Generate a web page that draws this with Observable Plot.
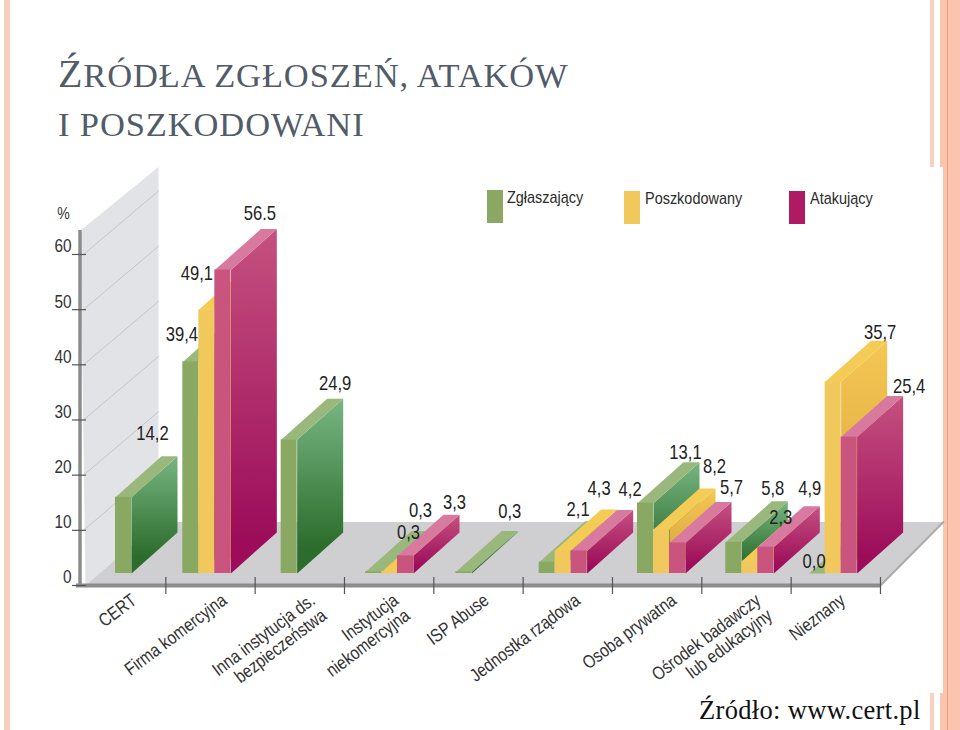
<!DOCTYPE html>
<html lang="pl">
<head>
<meta charset="utf-8">
<script src="https://cdn.jsdelivr.net/npm/d3@7"></script>
<script src="https://cdn.jsdelivr.net/npm/@observablehq/plot@0.6"></script>
<style>
html,body{margin:0;padding:0;background:#fff;overflow:hidden}
#page{position:relative;width:960px;height:730px;overflow:hidden}
.st{position:absolute}
#title{position:absolute;left:58px;top:50px;font-family:"Liberation Serif",serif;color:#525b68;font-size:34.5px;line-height:48.5px;letter-spacing:.88px;white-space:nowrap;font-weight:400}
#title .big{font-size:40px}
#plot{position:absolute;left:0;top:160px}
#src{position:absolute;left:699px;top:695px;font-family:"Liberation Serif",serif;font-size:26.5px;color:#111;letter-spacing:.33px;white-space:nowrap}
.lg{position:absolute;font-family:"Liberation Sans",sans-serif;font-size:17px;color:#2b2b2b;white-space:nowrap;transform:scaleX(.85);transform-origin:left center}
.sw{position:absolute;width:16px;height:33px}
</style>
</head>
<body>
<svg width="0" height="0" style="position:absolute">
<defs>
<linearGradient id="gGreen" x1="0" y1="0" x2="0" y2="1"><stop offset="0" stop-color="#78b682"/><stop offset=".85" stop-color="#2c6c2c"/></linearGradient>
<linearGradient id="gYellow" x1="0" y1="0" x2="0" y2="1"><stop offset="0" stop-color="#f5c753"/><stop offset="1" stop-color="#d4a03a"/></linearGradient>
<linearGradient id="gPink" x1="0" y1="0" x2="0" y2="1"><stop offset="0" stop-color="#c5517f"/><stop offset=".9" stop-color="#9c0c5a"/></linearGradient>
</defs>
</svg>
<div id="page">
  <div class="st" style="left:4px;top:0;width:6px;height:730px;background:#f8cdbd"></div>
  <div class="st" style="left:930px;top:0;width:4px;height:730px;background:#f9cfc0"></div>
  <div class="st" style="left:940px;top:0;width:20px;height:730px;background:#fbc4ae"></div>
  <div class="st" style="left:947px;top:0;width:1px;height:730px;background:#ee9f7e"></div>
  <div class="st" style="left:50px;top:167px;width:893px;height:526px;background:#fff"></div>
  <div id="title"><span class="big">Ź</span>RÓDŁA ZGŁOSZEŃ, ATAKÓW<br>I POSZKODOWANI</div>
  <div id="plot"></div>
  <div id="legend"></div>
  <div id="src">Źródło: www.cert.pl</div>
</div>
<script>
// ---- data -----------------------------------------------------------
const categories = ["CERT","Firma komercyjna","Inna instytucja ds.\nbezpieczeństwa","Instytucja\nniekomercyjna","ISP Abuse","Jednostka rządowa","Osoba prywatna","Ośrodek badawczy\nlub edukacyjny","Nieznany"];
const zglaszajacy   = [14.2, 39.4, 24.9, 0.3, 0.3, 2.1, 13.1, 5.8, 0.0];
const poszkodowany  = [null, 49.1, null, 0.3, null, 4.3, 8.2, 2.3, 35.7];
const atakujacy     = [null, 56.5, null, 3.3, null, 4.2, 5.7, 4.9, 25.4];
const labelsZ = ["14,2","39,4","24,9","0,3","0,3","2,1","13,1","5,8","0,0"];
const labelsP = [null,"49,1",null,"0,3",null,"4,3","8,2","2,3","35,7"];
const labelsA = [null,"56.5",null,"3,3",null,"4,2","5,7","4,9","25,4"];
const seriesNames = ["Zgłaszający","Poszkodowany","Atakujący"];
const yTicks = [0,10,20,30,40,50,60];

// ---- layout (in px of the page, converted by the scales' domains) ----
const W = 960, H = 540, TOP = 160;
const BAND = 89.33, X0 = 76, UNIT = 5.517, Y0 = 585;
const ix = px => (px - X0) / BAND;          // page px -> band units
const iy = px => (Y0 - px) / UNIT;          // page px -> percent units
const BAR = 16 / BAND, DX = 46 / BAND, DY = 41 / UNIT;   // bar width and depth
const LIFT = (Y0 - 573) / UNIT, K = 5.37 / UNIT;         // bars stand behind the axis
const groupShift = [39,17,26,21,22,16,25,24,18].map(d => d / BAND);
const labelShift = [53,54,53,47,48,50,57,52,47].map(d => d / BAND);
const nudges = [
  [[-17,-11],[-55,26],[0,-3],[-11,14],[0,-7],[-15,0],[-6,2],[-7,-1],[-49,41]],
  [null,[-56,17],null,[-15,-8],null,[-10,-9],[7,-10],[-15,9],[1,4]],
  [null,[-9,-4],null,[3,0],null,[5,-8],[8,-2],[-2,-6],[14,2]]
];
const frontFill = ["#89a862","#f0c85c","#c9557f"];
const topFill   = ["#9ab87c","#f4cc55","#d8799f"];
const sideFill  = ["url(#gGreen)","url(#gYellow)","url(#gPink)"];
const FONT = '"Liberation Sans",sans-serif';

const seriesVals = [zglaszajacy, poszkodowany, atakujacy];
const seriesLabs = [labelsZ, labelsP, labelsA];
const bars = [];
categories.forEach((c,i) => seriesVals.forEach((vals,s) => {
  if (vals[i] == null) return;
  const x1 = i + groupShift[i] + s * BAR, x2 = x1 + BAR, y1 = LIFT, y2 = LIFT + vals[i] * K;
  bars.push({c,i,s,x1,x2,y1,y2,label:seriesLabs[s][i],nudge:nudges[s][i]});
}));

const face = (pts,fill) => Plot.line(pts,{x:"0",y:"1",fill,stroke:"none"});

// background planes
const WALLX = 0.873, WALLY = 11.5, WALLTOP = iy(230);
const wall = face([[ix(80),WALLTOP],[ix(80)+WALLX,WALLTOP+WALLY],[ix(80)+WALLX,WALLY],[ix(85),0]],"#e2e3e6");
const floor = face([[ix(85),0],[ix(85)+.817,WALLY],[9+.705,WALLY],[9,0]],"#cfcfd2");
const wallLines = yTicks.filter(d => d > 0).map(d =>
  Plot.line([[ix(83),d],[ix(80)+WALLX,d+WALLY]],{x:"0",y:"1",stroke:"#c6c6c8",strokeWidth:1}));

const barMarks = bars.flatMap(b => [
  face([[b.x2,b.y1],[b.x2+DX,b.y1+DY],[b.x2+DX,b.y2+DY],[b.x2,b.y2]], sideFill[b.s]),
  face([[b.x1,b.y2],[b.x2,b.y2],[b.x2+DX,b.y2+DY],[b.x1+DX,b.y2+DY]], topFill[b.s]),
  Plot.rect([b],{x1:"x1",x2:"x2",y1:"y1",y2:"y2",fill:frontFill[b.s]})
]);

const valueLabels = bars.map(b => ({
  label:b.label,
  x:(b.x1 + BAR/2 + DX) + b.nudge[0]/BAND,
  y:(b.y2 + DY) + (12 - b.nudge[1])/UNIT
}));

const chart = Plot.plot({
  width:W, height:H, margin:0, style:{background:"transparent",overflow:"visible"},
  x:{type:"linear",domain:[-X0/BAND,(W-X0)/BAND],range:[0,W],axis:null},
  y:{type:"linear",domain:[(Y0-(TOP+H))/UNIT,(Y0-TOP)/UNIT],range:[H,0],axis:null},
  marks:[
    wall, floor, ...wallLines,
    // right edge of the floor and front edge (x axis)
    Plot.line([[9,0],[9.705,WALLY]],{x:"0",y:"1",stroke:"#ababad",strokeWidth:2}),
    Plot.ruleX([ix(79.5)],{y1:-.3,y2:WALLTOP,stroke:"#8c8c8c",strokeWidth:3.5}),
    Plot.ruleY([0],{x1:ix(76),x2:9,stroke:"#8c8c8c",strokeWidth:4}),
    Plot.ruleX(d3.range(1,10),{y1:iy(577),y2:iy(594),stroke:"#555",strokeWidth:1.2}),
    Plot.ruleY(yTicks,{x1:ix(72),x2:ix(86),stroke:"#555",strokeWidth:1.2}),
    ...barMarks,
    Plot.text(yTicks,{x:ix(71),y:d=>d,text:d=>String(d),dy:-8,textAnchor:"end",fontFamily:FONT,fontSize:18.5,fill:"#333"}),
    Plot.text(["%"],{x:ix(63),y:iy(213),text:d=>d,fontFamily:FONT,fontSize:17,fill:"#333"}),
    Plot.text(valueLabels,{x:"x",y:"y",text:"label",fontFamily:FONT,fontSize:20,fill:"#222"}),
    Plot.text(categories,{x:(d,i)=>i+labelShift[i],y:iy(591.5),text:d=>d,rotate:-37,textAnchor:"end",lineAnchor:"top",lineHeight:1.03,fontFamily:FONT,fontSize:18.5,fill:"#333"})
  ]
});
// the reference's labels are set in a condensed face: narrow the text along its own baseline
d3.select(chart).selectAll("text").each(function(){
  const t = this.getAttribute("transform") || "";
  this.setAttribute("transform", t + " scale(.83,1)");
});
document.getElementById("plot").appendChild(chart);

// legend
const legendPos = [[487,190,507],[624,191,645],[789,191,810]];
const legendCol = ["#8aa862","#f0c85c","#ae1a64"];
const lg = document.getElementById("legend");
seriesNames.forEach((n,i) => {
  const sw = document.createElement("div"); sw.className="sw";
  sw.style.cssText = `left:${legendPos[i][0]}px;top:${legendPos[i][1]}px;background:${legendCol[i]}`;
  lg.appendChild(sw);
  const t = document.createElement("div"); t.className="lg"; t.textContent=n;
  t.style.cssText = `left:${legendPos[i][2]}px;top:${legendPos[i][1]-2}px`;
  lg.appendChild(t);
});
</script>
</body>
</html>
